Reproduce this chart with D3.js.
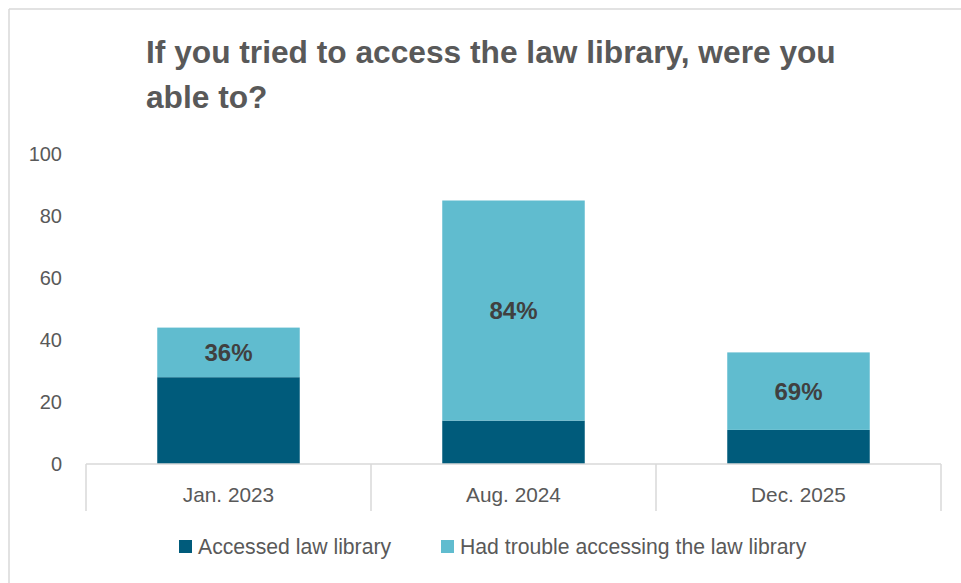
<!DOCTYPE html>
<html>
<head>
<meta charset="utf-8">
<script src="https://cdn.jsdelivr.net/npm/d3@7/dist/d3.min.js"></script>
<style>
  html, body { margin: 0; padding: 0; background: #fff; }
  svg { display: block; font-family: "Liberation Sans", Arial, sans-serif; }
</style>
</head>
<body>
<svg id="chart" width="961" height="583"></svg>
<script>
// Survey periods
const categories = ["Jan. 2023", "Aug. 2024", "Dec. 2025"];
// Respondents who got into the law library
const accessed = [28, 14, 11];
// Respondents who had trouble getting in
const trouble = [16, 71, 25];
// Share of respondents who had trouble, as printed on each bar
const troublePct = ["36%", "84%", "69%"];
const seriesNames = ["Accessed law library", "Had trouble accessing the law library"];
const yTicks = [0, 20, 40, 60, 80, 100];
const titleLines = ["If you tried to access the law library, were you", "able to?"];

const colors = ["#005b7b", "#60bccf"];
const grid = "#d9d9d9";

const svg = d3.select("#chart");

// outer frame of the chart area
svg.append("line").attr("x1", 9).attr("y1", 9).attr("x2", 961).attr("y2", 9)
  .attr("stroke", grid).attr("stroke-width", 1.5);
svg.append("line").attr("x1", 9).attr("y1", 9).attr("x2", 9).attr("y2", 583)
  .attr("stroke", grid).attr("stroke-width", 1.5);

// title
svg.append("text")
  .attr("x", 146).attr("y", 63)
  .attr("fill", "#595959")
  .attr("font-size", 31.7).attr("font-weight", "bold")
  .selectAll("tspan").data(titleLines).join("tspan")
  .attr("x", 146).attr("dy", (d, i) => i === 0 ? 0 : 45)
  .text(d => d);

const x = d3.scaleBand().domain(categories).range([86, 941])
  .paddingInner(0.5).paddingOuter(0.25);
const y = d3.scaleLinear().domain([0, 100]).range([464, 154]);

// y axis labels only
const yAxis = d3.axisLeft(y).tickValues(yTicks).tickSize(0).tickPadding(0);
const gy = svg.append("g").attr("transform", "translate(62,0)").call(yAxis);
gy.select(".domain").remove();
gy.selectAll("text").attr("font-size", 20).attr("fill", "#595959")
  .attr("font-family", "Liberation Sans, Arial, sans-serif");

// stacked bars
const rows = categories.map((c, i) => ({ cat: c, accessed: accessed[i], trouble: trouble[i], pct: troublePct[i] }));
const stack = d3.stack().keys(["accessed", "trouble"])(rows);

svg.append("g").selectAll("g").data(stack).join("g")
  .attr("fill", (d, i) => colors[i])
  .selectAll("rect").data(d => d).join("rect")
  .attr("x", d => x(d.data.cat))
  .attr("width", x.bandwidth())
  .attr("y", d => y(d[1]))
  .attr("height", d => y(d[0]) - y(d[1]));

// percentage labels in the middle of the "trouble" segment
svg.append("g").selectAll("text").data(stack[1]).join("text")
  .attr("x", d => x(d.data.cat) + x.bandwidth() / 2)
  .attr("y", d => y((d[0] + d[1]) / 2))
  .attr("dy", "0.35em")
  .attr("text-anchor", "middle")
  .attr("font-size", 24).attr("font-weight", "bold")
  .attr("fill", "#404040")
  .text(d => d.data.pct);

// category axis drawn as a table row
const x0 = x.range()[0], x1 = x.range()[1];
const axisG = svg.append("g").attr("stroke", grid).attr("stroke-width", 1.5);
axisG.append("line").attr("x1", x0).attr("x2", x1).attr("y1", y(0)).attr("y2", y(0));
const bounds = [x0].concat(categories.map(c => x(c) + x.bandwidth() / 2 + x.step() / 2));
axisG.selectAll("line.sep").data(bounds).join("line").attr("class", "sep")
  .attr("x1", d => d).attr("x2", d => d)
  .attr("y1", y(0)).attr("y2", 511);

svg.append("g").selectAll("text").data(categories).join("text")
  .attr("x", d => x(d) + x.bandwidth() / 2)
  .attr("y", 495).attr("dy", "0.35em")
  .attr("text-anchor", "middle")
  .attr("font-size", 20.8).attr("fill", "#595959")
  .text(d => d);

// legend
const legendX = [179, 441];
const lg = svg.append("g").selectAll("g").data(seriesNames).join("g")
  .attr("transform", (d, i) => `translate(${legendX[i]},547)`);
lg.append("rect").attr("x", 0).attr("y", -7).attr("width", 13).attr("height", 13)
  .attr("fill", (d, i) => colors[i]);
lg.append("text").attr("x", 19).attr("dy", "0.35em")
  .attr("font-size", 21.2).attr("fill", "#595959")
  .text(d => d);
</script>
</body>
</html>
